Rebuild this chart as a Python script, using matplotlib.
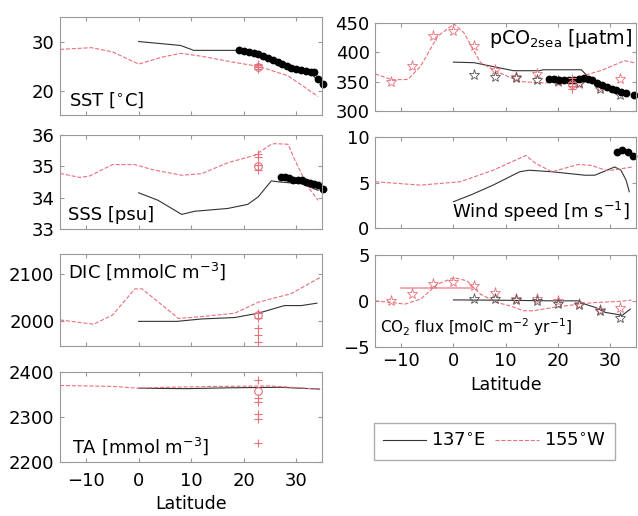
import numpy as np
import matplotlib.pyplot as plt
from matplotlib.lines import Line2D

plt.rcParams['font.family'] = ['DejaVu Sans']
plt.rcParams['mathtext.default'] = 'regular'

# ---- values ----
hot_lat = 22.75
star_lat = [-12, -8, -4, 0, 4, 8, 12, 16, 20, 24, 28, 32]
star_lat_e = [4, 8, 12, 16, 20, 24, 28, 32]

# SST
sst_lat_e = [0, 4, 8, 10.5, 15, 19, 22, 25, 28, 31, 33, 34.3]
sst_e = [30.0, 29.6, 29.2, 28.2, 28.2, 28.2, 27.6, 26.3, 25.0, 23.9, 23.4, 21.8]
sst_lat_w = [-15, -9, -5, 0, 4.4, 8, 12, 18, 23, 28.5, 34.2]
sst_w = [28.4, 28.75, 27.9, 25.4, 26.8, 27.6, 27.0, 25.8, 24.9, 23.0, 18.8]
sst_ship_lat = [19.1, 20.1, 21.0, 22.0, 22.8, 23.7, 24.7, 25.6, 26.5, 27.3,
                28.3, 29.1, 30.1, 31.0, 32.0, 32.8, 33.5, 34.2, 35.2]
sst_ship = [28.3, 28.05, 27.8, 27.6, 27.4, 27.1, 26.7, 26.2, 25.8, 25.5,
            25.1, 24.6, 24.3, 24.1, 23.9, 23.7, 23.7, 22.3, 21.3]
sst_hot = [24.4, 24.8, 25.2, 25.5]
sst_hot_mean = 24.9

# SSS
sss_lat_e = [0, 3.7, 8.2, 10.7, 17, 20.8, 22.8, 25.3, 27.2, 31, 34.2]
sss_e = [34.16, 33.92, 33.47, 33.57, 33.66, 33.79, 34.03, 34.54, 34.5, 34.45, 34.24]
sss_lat_w = [-15, -11.2, -9.3, -5, -0.7, 2.6, 8.2, 12, 17, 22.2, 25.3, 26, 28.5, 29.8, 32.3, 34.2]
sss_w = [34.78, 34.65, 34.7, 35.06, 35.06, 34.9, 34.72, 34.77, 35.12, 35.36, 35.71,
         35.73, 35.71, 35.2, 34.35, 33.92]
sss_ship_lat = [27.1, 27.9, 28.7, 29.5, 30.3, 31.1, 31.9, 32.7, 33.5, 34.2, 35.2]
sss_ship = [34.67, 34.67, 34.63, 34.58, 34.56, 34.56, 34.51, 34.46, 34.44, 34.41, 34.27]
sss_hot = [35.4, 35.3, 35.05, 34.9]
sss_hot_mean = 35.02

# DIC
dic_lat_e = [0, 7.3, 12, 18.3, 22.8, 27.8, 31, 34]
dic_e = [2000, 2000, 2005, 2008, 2017, 2033, 2033, 2038]
dic_lat_w = [-15, -8.6, -5, -0.7, 0.6, 3.7, 7.6, 12, 18.3, 22.8, 29.1, 34.8]
dic_w = [2003, 1994, 2013, 2068, 2068, 2041, 2006, 2010, 2017, 2040, 2058, 2093]
dic_hot = [2017, 2008, 1987, 1971, 1957]
dic_hot_mean = 2013

# TA
ta_lat_e = [0, 9, 18, 27, 34.5]
ta_e = [2364, 2363, 2365, 2366, 2362]
ta_lat_w = [-15, -5, 0, 5, 15, 25, 34.5]
ta_w = [2370, 2368, 2364, 2366, 2368, 2369, 2362]
ta_hot = [2383, 2343, 2333, 2307, 2296, 2242]
ta_hot_mean = 2358

# pCO2sea
pco2_lat_e = [0, 4, 8, 11.5, 16.5, 17.2, 24.5, 25.5]
pco2_e = [383, 382, 374.7, 368.4, 368.4, 370, 370, 361]
pco2_lat_w = [-15, -11.8, -8.7, -6.3, -3, 0.1, 2, 5.2, 8.3, 12.7, 17.7, 24, 28.4, 32.8, 34.6]
pco2_w = [363, 353, 353.5, 376, 427, 448, 433, 382, 367, 350, 347.5, 357.6, 369, 385.5, 382]
pco2_star_w = [349, 377, 427, 436, 410, 370, 358, 362, 350, 345, 340, 355]
pco2_star_e = [361.5, 357.6, 356, 353, 350.6, 347.6, 337.8, 327.6]
pco2_ship_lat = [18.4, 19.3, 20.25, 21.2, 22.1, 23.1, 24.0, 25.0, 25.8, 26.5,
                 27.5, 28.4, 29.4, 30.3, 31.2, 32.2, 33.1, 34.6]
pco2_ship = [354.7, 354.5, 353, 353, 353, 353, 354.7, 355.3, 354.7, 352,
             347.2, 343.8, 340.4, 337.5, 335.8, 333, 330, 327.3]
pco2_hot = [337, 343, 350, 356]
pco2_hot_mean = 345

# wind speed
wind_lat_e = [0, 3.3, 7.6, 12.7, 14.5, 18.9, 25.2, 27.1, 30.9, 32.1, 33.1, 33.7]
wind_e = [2.9, 3.64, 4.73, 6.2, 6.37, 6.2, 5.82, 5.82, 6.73, 6.37, 5.25, 4.0]
wind_lat_w = [-15, -6.3, 1.3, 7.6, 13.9, 15.8, 18.9, 23.9, 26.4, 29.6, 34.3]
wind_w = [5.1, 4.73, 5.1, 6.37, 8.0, 7.1, 6.2, 7.0, 6.9, 6.3, 6.73]
wind_ship_lat = [31.4, 32.3, 33.4, 34.5]
wind_ship = [8.37, 8.62, 8.37, 7.93]

# CO2 flux
flux_lat_e = [0, 8.3, 19, 24, 25.2, 27.2, 29.1, 31, 32.3, 33.9]
flux_e = [0.1, 0.07, 0.0, 0.0, -0.36, -0.72, -1.26, -1.44, -1.6, -0.9]
flux_lat_w = [-15, -11.8, -9.3, -6.3, -3.1, 0.1, 2.6, 5.2, 8.3, 10.8, 13.4, 15.3,
              19.1, 24, 27.2, 31.6, 34.1]
flux_w = [0, -0.18, -0.36, 0.18, 1.8, 2.53, 2.17, 0.72, -0.18, -0.54, -1.08, -1.08,
          -0.72, -0.36, -0.18, -0.07, 0.07]
flux_star_w = [0, 0.72, 1.88, 2.0, 1.6, 0.8, 0.25, 0.18, 0.0, -0.36, -0.97, -0.83]
flux_star_e = [0.18, 0.18, 0.07, -0.07, -0.36, -0.47, -1.08, -1.88]
flux_eq_lat = [-10, 3.3]
flux_eq = [1.45, 1.45]

E_COL = '#333333'
W_COL = '#e8707a'
FS = 13

fig = plt.figure(figsize=(6.38, 5.16), dpi=100)


def make_ax(rect, ylim, yticks, xlabels=False, xpad=4):
    ax = fig.add_axes(rect)
    ax.set_xlim(-15, 35)
    ax.set_ylim(*ylim)
    ax.set_xticks([-10, 0, 10, 20, 30])
    ax.set_yticks(yticks)
    ax.tick_params(direction='in', top=True, right=True, length=3,
                   color='#999999', labelsize=FS)
    ax.tick_params(axis='y', pad=4)
    ax.tick_params(axis='x', pad=xpad)
    if not xlabels:
        ax.set_xticklabels([])
    else:
        ax.set_xlabel('Latitude', fontsize=FS - 0.5, labelpad=4)
    for s in ax.spines.values():
        s.set_color('#999999')
        s.set_linewidth(0.8)
    return ax


def hot(ax, vals, mean):
    ax.plot([hot_lat] * len(vals), vals, '+', color=W_COL, ms=6, mew=0.8)
    ax.plot(hot_lat, mean, 'o', mfc='none', mec=W_COL, ms=5.5, mew=0.8)


def ship(ax, lat, vals):
    ax.plot(lat, vals, 'o', color='k', ms=4.6, clip_on=False)


def stars(ax, lat, vals, col):
    ax.plot(lat, vals, '*', mfc='none', mec=col, ms=8, mew=0.6)


lx, lw = 0.094, 0.411
rx, rw = 0.588, 0.409

# SST
ax = make_ax([lx, 0.777, lw, 0.190], (15, 35), [20, 30])
ax.plot(sst_lat_e, sst_e, '-', color=E_COL, lw=0.8)
ax.plot(sst_lat_w, sst_w, '--', color=W_COL, lw=0.8)
ship(ax, sst_ship_lat, sst_ship)
hot(ax, sst_hot, sst_hot_mean)
ax.text(0.035, 0.05, r'SST [$^{\circ}$C]', transform=ax.transAxes, fontsize=FS, va='bottom')

# SSS
ax = make_ax([lx, 0.556, lw, 0.182], (33, 36), [33, 34, 35, 36])
ax.plot(sss_lat_e, sss_e, '-', color=E_COL, lw=0.8)
ax.plot(sss_lat_w, sss_w, '--', color=W_COL, lw=0.8)
ship(ax, sss_ship_lat, sss_ship)
hot(ax, sss_hot, sss_hot_mean)
ax.text(0.03, 0.05, 'SSS [psu]', transform=ax.transAxes, fontsize=FS, va='bottom')

# DIC
ax = make_ax([lx, 0.329, lw, 0.178], (1948, 2140), [2000, 2100])
ax.plot(dic_lat_e, dic_e, '-', color=E_COL, lw=0.8)
ax.plot(dic_lat_w, dic_w, '--', color=W_COL, lw=0.8)
hot(ax, dic_hot, dic_hot_mean)
ax.text(0.03, 0.93, r'DIC [mmolC m$^{-3}$]', transform=ax.transAxes, fontsize=FS, va='top')

# TA
ax = make_ax([lx, 0.105, lw, 0.174], (2200, 2400), [2200, 2300, 2400], xlabels=True, xpad=7)
ax.plot(ta_lat_e, ta_e, '-', color=E_COL, lw=0.8)
ax.plot(ta_lat_w, ta_w, '--', color=W_COL, lw=0.8)
hot(ax, ta_hot, ta_hot_mean)
ax.text(0.045, 0.05, r'TA [mmol m$^{-3}$]', transform=ax.transAxes, fontsize=FS, va='bottom')

# pCO2sea
ax = make_ax([rx, 0.785, rw, 0.171], (300, 450), [300, 350, 400, 450])
ax.plot(pco2_lat_e, pco2_e, '-', color=E_COL, lw=0.8)
ax.plot(pco2_lat_w, pco2_w, '--', color=W_COL, lw=0.8)
stars(ax, star_lat, pco2_star_w, W_COL)
stars(ax, star_lat_e, pco2_star_e, '#555555')
ship(ax, pco2_ship_lat, pco2_ship)
hot(ax, pco2_hot, pco2_hot_mean)
ax.text(0.985, 0.95, r'pCO$_{2sea}$ [µatm]', transform=ax.transAxes, fontsize=FS + 0.7,
        va='top', ha='right')

# wind speed
ax = make_ax([rx, 0.558, rw, 0.176], (0, 10), [0, 5, 10])
ax.plot(wind_lat_e, wind_e, '-', color=E_COL, lw=0.8)
ax.plot(wind_lat_w, wind_w, '--', color=W_COL, lw=0.8)
ship(ax, wind_ship_lat, wind_ship)
ax.text(0.977, 0.05, r'Wind speed [m s$^{-1}$]', transform=ax.transAxes, fontsize=FS,
        va='bottom', ha='right')

# CO2 flux
ax = make_ax([rx, 0.328, rw, 0.178], (-5, 5), [-5, 0, 5], xlabels=True, xpad=4)
ax.plot(flux_eq_lat, flux_eq, '-', color=W_COL, lw=1.2, alpha=0.7)
ax.plot(flux_lat_e, flux_e, '-', color=E_COL, lw=0.8)
ax.plot(flux_lat_w, flux_w, '--', color=W_COL, lw=0.8)
stars(ax, star_lat, flux_star_w, W_COL)
stars(ax, star_lat_e, flux_star_e, '#555555')
ax.text(0.02, 0.1, r'CO$_2$ flux [molC m$^{-2}$ yr$^{-1}$]', transform=ax.transAxes,
        fontsize=FS - 2, va='bottom')

# legend
handles = [Line2D([], [], color=E_COL, lw=0.8, ls='-'),
           Line2D([], [], color=W_COL, lw=0.8, ls='--')]
fig.legend(handles, [r'137$^{\circ}$E', r'155$^{\circ}$W'], ncol=2, fontsize=FS,
           loc='center', bbox_to_anchor=(0.775, 0.1444), fancybox=False,
           edgecolor='#999999', handlelength=2.4, columnspacing=0.5,
           borderpad=0.5, handletextpad=0.3, borderaxespad=0)

fig.savefig('out.png', dpi=100)
